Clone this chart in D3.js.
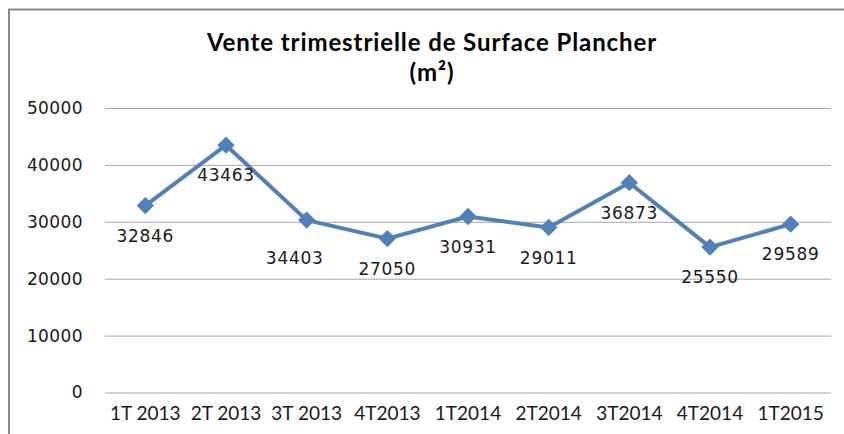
<!DOCTYPE html>
<html>
<head>
<meta charset="utf-8">
<script src="https://cdn.jsdelivr.net/npm/d3@7"></script>
<style>
  body { margin: 0; background: #fff; }
  svg { display: block; }
</style>
</head>
<body>
<div id="chart"></div>
<script>
// data
const quarters = ["1T 2013", "2T 2013", "3T 2013", "4T2013", "1T2014", "2T2014", "3T2014", "4T2014", "1T2015"];
const surface = [32846, 43463, 30300, 27050, 30931, 29011, 36873, 25550, 29589];
// labels as printed on the chart (the 3rd one does not match its point)
const labels = ["32846", "43463", "34403", "27050", "30931", "29011", "36873", "25550", "29589"];
const yTicks = [0, 10000, 20000, 30000, 40000, 50000];

const W = 844, H = 434;
const margin = {top: 108, right: 13, bottom: 41.5, left: 105};

const svg = d3.select("#chart").append("svg")
  .attr("width", W)
  .attr("height", H);

// chart frame (cut off at right and bottom in the reference)
svg.append("rect")
  .attr("x", 9).attr("y", 9.5)
  .attr("width", W + 20).attr("height", H + 20)
  .attr("fill", "none")
  .attr("stroke", "#8a8a8a")
  .attr("stroke-width", 2);

// title
const title = svg.append("text")
  .attr("text-anchor", "middle")
  .attr("font-family", "Lato, sans-serif")
  .attr("font-weight", "bold")
  .attr("font-size", 24)
  .attr("letter-spacing", 0.9)
  .attr("fill", "#000");
title.append("tspan").attr("x", 432).attr("y", 51).text("Vente trimestrielle de Surface Plancher");
title.append("tspan").attr("x", 432).attr("y", 81).text("(m²)");

const x = d3.scaleBand()
  .domain(quarters)
  .range([margin.left, W - margin.right])
  .padding(0);

const y = d3.scaleLinear()
  .domain([0, 50000])
  .range([H - margin.bottom, margin.top]);

// gridlines + y labels
const yAxis = svg.append("g")
  .attr("transform", `translate(${margin.left},0)`)
  .call(d3.axisLeft(y).tickValues(yTicks).tickSize(-(W - margin.left - margin.right)).tickPadding(22).tickFormat(d3.format("d")));
yAxis.select(".domain").remove();
yAxis.selectAll("line").attr("stroke", "#a6a6a6").attr("stroke-width", 1);
yAxis.selectAll("text")
  .attr("font-family", "'DejaVu Sans', sans-serif")
  .attr("font-size", 17)
  .attr("letter-spacing", 0.4)
  .attr("fill", "#1a1a1a");

// x labels
const xAxis = svg.append("g")
  .attr("transform", `translate(0,${H - margin.bottom})`)
  .call(d3.axisBottom(x).tickSize(0).tickPadding(14));
xAxis.select(".domain").remove();
xAxis.selectAll("text")
  .attr("font-family", "Lato, sans-serif")
  .attr("font-size", 19)
  .attr("fill", "#1a1a1a");

const cx = d => x(d) + x.bandwidth() / 2;

// line
const line = d3.line()
  .x((d, i) => cx(quarters[i]))
  .y(d => y(d));

svg.append("path")
  .datum(surface)
  .attr("d", line)
  .attr("fill", "none")
  .attr("stroke", "#4F81BD")
  .attr("stroke-width", 4)
  .attr("stroke-linejoin", "round");

// diamond markers
svg.append("g")
  .selectAll("path")
  .data(surface)
  .join("path")
    .attr("d", d3.symbol(d3.symbolSquare, 150))
    .attr("transform", (d, i) => `translate(${cx(quarters[i])},${y(d)}) rotate(45)`)
    .attr("fill", "#4F81BD");

// data labels below the points
const nudge = {2: [-12, 8]};
svg.append("g")
  .selectAll("text")
  .data(surface)
  .join("text")
    .attr("x", (d, i) => cx(quarters[i]) + (nudge[i] ? nudge[i][0] : 0))
    .attr("y", (d, i) => y(d) + 30 + (nudge[i] ? nudge[i][1] : 0))
    .attr("dy", "0.36em")
    .attr("text-anchor", "middle")
    .attr("font-family", "'DejaVu Sans', sans-serif")
    .attr("font-size", 17)
    .attr("letter-spacing", 0.7)
    .attr("fill", "#1a1a1a")
    .text((d, i) => labels[i]);
</script>
</body>
</html>
